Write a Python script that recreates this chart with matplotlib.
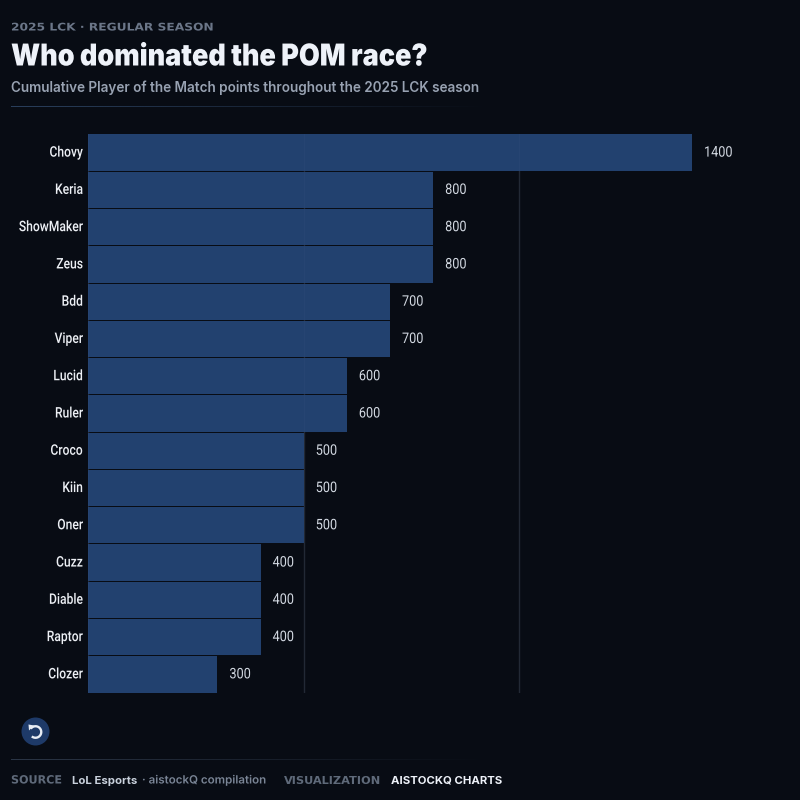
import numpy as np
import matplotlib
matplotlib.use('Agg')
import matplotlib.pyplot as plt
from matplotlib.patches import Circle, Arc, Polygon
from matplotlib.patheffects import AbstractPathEffect
from matplotlib.transforms import Affine2D

players = ['Chovy', 'Keria', 'ShowMaker', 'Zeus', 'Bdd', 'Viper', 'Lucid', 'Ruler',
           'Croco', 'Kiin', 'Oner', 'Cuzz', 'Diable', 'Raptor', 'Clozer']
points = [1400, 800, 800, 800, 700, 700, 600, 600, 500, 500, 500, 400, 400, 400, 300]
grid_ticks = [0, 500, 1000]

BG = '#080c14'
BAR = '#22416f'


class Squeeze(AbstractPathEffect):
    # squeeze/stretch text sideways, matplotlib has no condensed Roboto
    def __init__(self, sx, right=False):
        super().__init__()
        self.sx = sx
        self.right = right

    def draw_path(self, renderer, gc, tpath, affine, rgbFace=None):
        shift = tpath.get_extents().x1 * (1 - self.sx) if self.right else 0
        renderer.draw_path(gc, tpath, Affine2D().scale(self.sx, 1).translate(shift, 0) + affine, rgbFace)


fig = plt.figure(figsize=(8, 8), dpi=100, facecolor=BG)

# plot area in pixels: x 88..692 is 0..1400, y 134..693
ax = fig.add_axes([88 / 800, 1 - 693 / 800, 604 / 800, 559 / 800])
ax.set_facecolor('none')
y = np.arange(len(players))
for g in grid_ticks:
    ax.axvline(g, color='#8fa3c0', alpha=0.17, lw=1, zorder=1)
    ax.axvline(g, color='#8fa3c0', alpha=0.04, lw=1, zorder=3)
ax.barh(y, points, height=0.975, color=BAR, edgecolor='none', zorder=2)
ax.set_xlim(0, 1400)
ax.set_ylim(len(players) - 0.5, -0.5)
for s in ax.spines.values():
    s.set_visible(False)
ax.set_xticks([])
ax.set_yticks(y)
ax.set_yticklabels(players, family='Roboto', fontsize=10.5, fontweight='medium', color='#edf0f5', va='center')
ax.tick_params(axis='y', length=0, pad=3.5)
for lab in ax.get_yticklabels():
    lab.set_path_effects([Squeeze(0.83, right=True)])
for yi, v in zip(y, points):
    ax.annotate(str(v), (v, yi), xytext=(12, 0), textcoords='offset pixels', va='center', ha='left',
                color='#d3d9e2', fontsize=10.5, family='Roboto', annotation_clip=False,
                path_effects=[Squeeze(0.87)])

# overlay in pixel coordinates for header, footer, button
ov = fig.add_axes([0, 0, 1, 1], facecolor='none')
ov.axis('off')

ov.text(11, 27.5, '2025 LCK · REGULAR SEASON', fontsize=7.6, family='DejaVu Sans', fontweight='bold',
        color='#6b7688', va='center', ha='left', path_effects=[Squeeze(1.16)])
ov.text(11, 57.5, 'Who dominated the POM race?', fontsize=21.7, family='Inter', fontweight='black',
        color='#eef2f9', va='center', ha='left', path_effects=[Squeeze(0.895)])
ov.text(11, 88, 'Cumulative Player of the Match points throughout the 2025 LCK season', fontsize=9.74,
        family='Inter', fontweight='semibold', color='#98a2b2', va='center', ha='left')

# fading rules
fade = np.zeros((1, 256, 4))
fade[..., :3] = matplotlib.colors.to_rgb('#2a3f5c')
fade[..., 3] = np.linspace(1, 0, 256)
ov.imshow(fade, extent=(11, 490, 107.5, 106.5), aspect='auto', zorder=1)
fade2 = fade.copy()
fade2[..., :3] = matplotlib.colors.to_rgb('#2b3646')
ov.imshow(fade2, extent=(11, 490, 760.5, 759.5), aspect='auto', zorder=1)
ov.set_xlim(0, 800)
ov.set_ylim(800, 0)

# reset button
ov.add_patch(Circle((35.5, 731.5), 14, color='#1e3a68', lw=0))
ov.add_patch(Arc((35.5, 732), 11.5, 11.5, theta1=-145, theta2=130, color='#e8edf5', lw=1.7))
ov.add_patch(Polygon([[28.5, 724.5], [34, 725.5], [29, 730.5]], closed=True, color='#e8edf5', lw=0))

# footer
fs = 8.2
ov.text(11, 780.5, 'SOURCE', fontsize=fs, family='DejaVu Sans', fontweight='bold', color='#5f6a7a', va='center',
        path_effects=[Squeeze(0.98)])
ov.text(72, 780.5, 'LoL Esports', fontsize=fs, family='Inter', fontweight='bold', color='#c9d1dc', va='center')
ov.text(142, 780.5, '· aistockQ compilation', fontsize=fs, family='Inter', fontweight='semibold', color='#7a8596',
        va='center', path_effects=[Squeeze(1.015)])
ov.text(284, 780.5, 'VISUALIZATION', fontsize=fs, family='DejaVu Sans', fontweight='bold', color='#5f6a7a', va='center')
ov.text(391, 780.5, 'AISTOCKQ CHARTS', fontsize=fs, family='Inter', fontweight='bold', color='#eef2f9', va='center')

fig.savefig('out.png', dpi=100, facecolor=BG)
